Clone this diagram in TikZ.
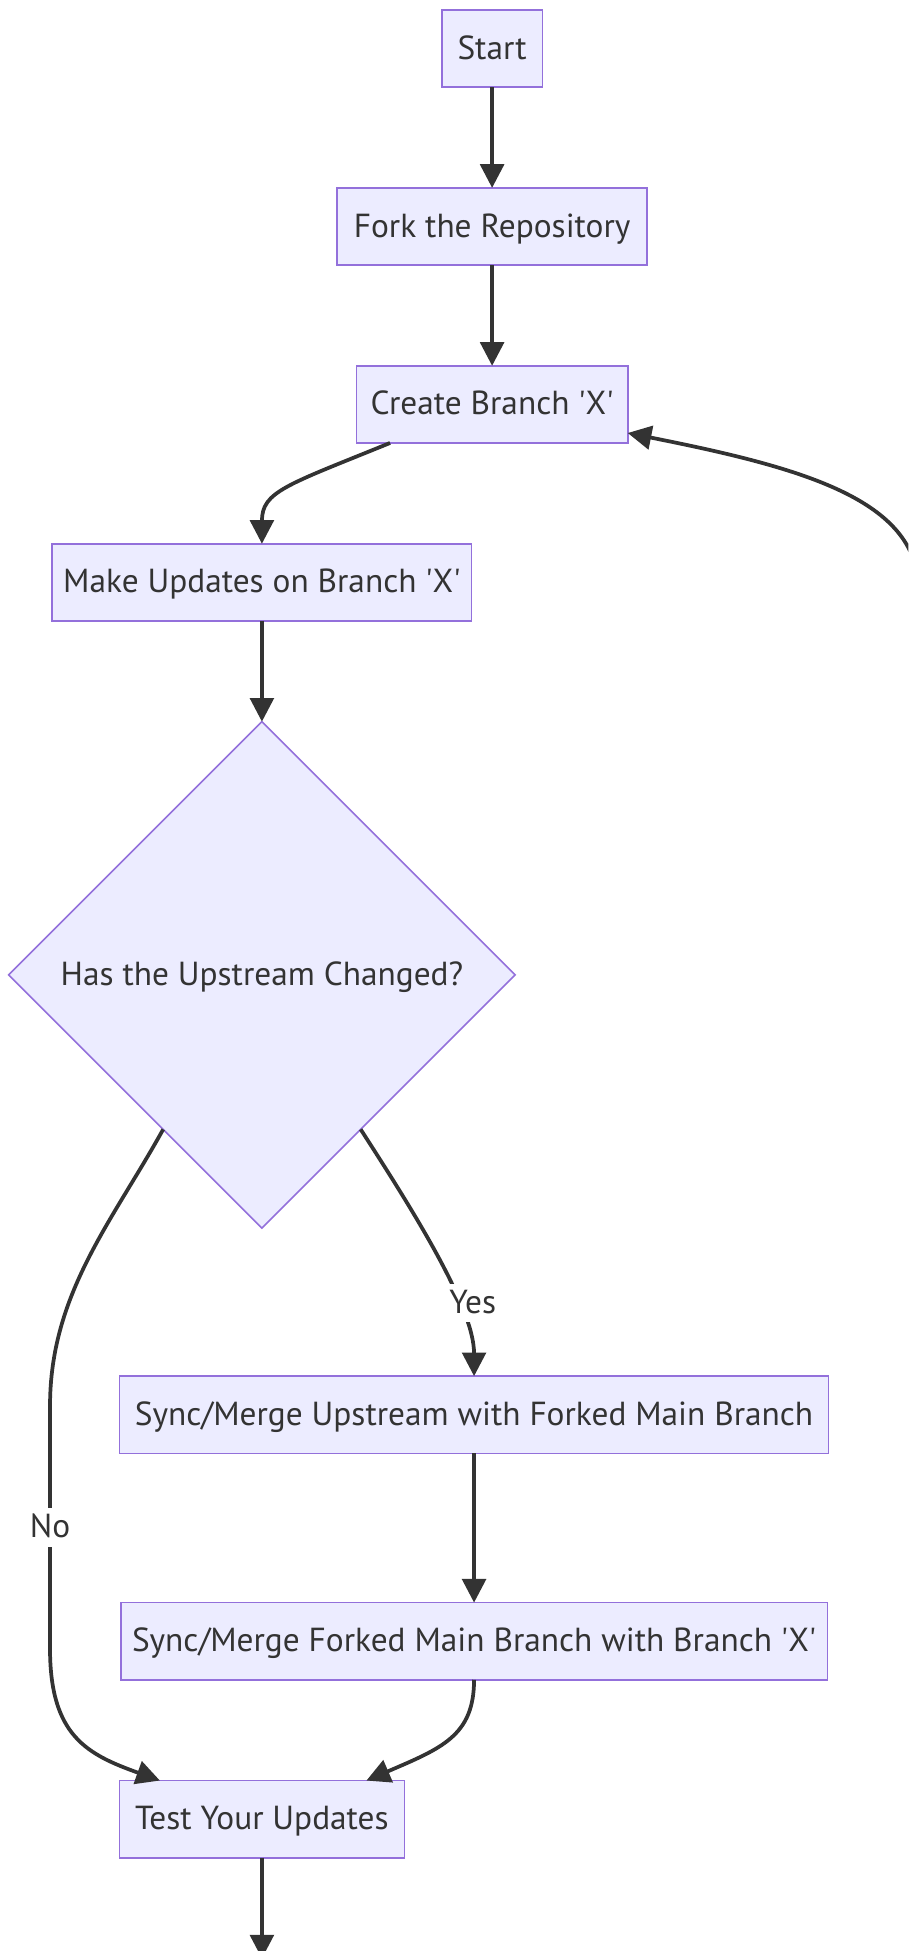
\documentclass[tikz,border=0pt]{standalone}
\usepackage{fontspec}
\setmainfont{PT Sans}
\usetikzlibrary{arrows.meta,shapes.geometric,calc}
\definecolor{nodefill}{HTML}{ECECFF}
\definecolor{nodeline}{HTML}{9370DB}
\definecolor{ink}{HTML}{333333}
\newcommand\mmfont{\fontsize{26.8pt}{31pt}\selectfont}
\begin{document}
\begin{tikzpicture}[x=1pt,y=-1pt,
  box/.style={draw=nodeline, fill=nodefill, line width=1.3pt, minimum height=62pt, inner sep=0pt, outer sep=0pt, text=ink, font=\mmfont, text height=22pt, text depth=5pt},
  decision/.style={diamond, aspect=1, draw=nodeline, fill=nodefill, line width=1.3pt, minimum width=407pt, minimum height=407pt, inner sep=0pt, outer sep=0pt, text=ink, font=\mmfont, text height=22pt, text depth=5pt},
  arr/.style={draw=ink, line width=3pt, -{Triangle[length=19pt,width=19pt]}},
  lbl/.style={fill=white, text=ink, font=\mmfont, inner xsep=1pt, inner ysep=0pt, minimum height=31pt, text height=22pt, text depth=5pt}
]
\useasboundingbox (0,0) rectangle (730,1568);
\clip (0,0) rectangle (730,1568);

\node[box, minimum width=81pt] (start) at (395.5,39) {Start};
\node[box, minimum width=249pt] (fork) at (395.5,182) {Fork the Repository};
\node[box, minimum width=218pt] (create) at (395.5,325) {Create Branch \textquotesingle X\textquotesingle};
\node[box, minimum width=337pt] (make) at (210.5,468) {Make Updates on Branch \textquotesingle X\textquotesingle};
\node[decision] (dec) at (210.5,783.5) {Has the Upstream Changed?};
\node[box, minimum width=570pt] (su) at (381,1137) {Sync/Merge Upstream with Forked Main Branch};
\node[box, minimum width=568pt] (sf) at (381,1319) {Sync/Merge Forked Main Branch with Branch \textquotesingle X\textquotesingle};
\node[box, minimum width=229pt] (test) at (210.5,1462) {Test Your Updates};

\coordinate (loopsrc) at (738,470);
\coordinate (out) at (210.5,1574);

\draw[arr] (start) -- (fork);
\draw[arr] (fork) -- (create);
\draw[arr] ($(create.south west)+(27,0)$) .. controls (230,390) and (210.5,395) .. (make.north);
\draw[arr] (loopsrc) .. controls (735,400) and (640,375) .. ($(create.south east)+(0,-8)$);
\draw[arr] (make) -- (dec);
\draw[arr] ($(dec.west)!0.61!(dec.south)$) .. controls (90,982) and (40.2,1040) .. (40.2,1130)
  -- node[lbl]{No} (40.2,1325)
  .. controls (40.2,1395) and (70,1410) .. ($(test.north)+(-82,0)$);
\draw[arr] ($(dec.east)!0.61!(dec.south)$) .. controls (330,970) and (381,1050) ..
  node[lbl,pos=0.7,xshift=11pt,yshift=3pt]{Yes} (su.north);
\draw[arr] (su) -- (sf);
\draw[arr] (sf.south) .. controls (381,1395) and (355,1405) .. ($(test.north)+(84,0)$);
\draw[arr] (test) -- (out);
\end{tikzpicture}
\end{document}
